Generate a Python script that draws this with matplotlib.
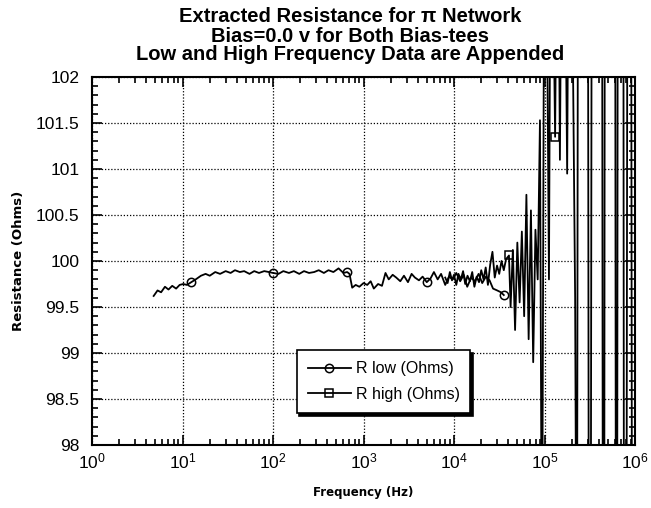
import numpy as np
import matplotlib
matplotlib.use("Agg")
import matplotlib.pyplot as plt
from matplotlib.ticker import LogLocator, MultipleLocator, FixedLocator, NullFormatter

plt.rcParams['font.family'] = ['Liberation Sans', 'DejaVu Sans']

title_lines = ["Extracted Resistance for \u03c0 Network",
               "Bias=0.0 v for Both Bias-tees",
               "Low and High Frequency Data are Appended"]
x_label = "Frequency (Hz)"
y_label = "Resistance (Ohms)"
low_name = "R low (Ohms)"
high_name = "R high (Ohms)"

low_freq = [4.8, 5.3, 5.8, 6.4, 7.0, 7.7, 8.5, 9.3, 10.2, 11.2, 12.5, 14, 16, 18, 20, 23, 26, 30, 34, 38,
            43, 48, 55, 62, 70, 80, 90, 100, 115, 130, 150, 170, 195, 220, 250, 285, 320, 365, 410, 465,
            530, 600, 660, 700, 750, 820, 900, 1000, 1100, 1200, 1300, 1450, 1600, 1750, 1900, 2100, 2300,
            2550, 2800, 3100, 3400, 3700, 4100, 4500, 5000, 5500, 6000, 6600, 7200, 8000, 8800, 9700,
            10600, 11700, 12800, 14000, 15500, 17000, 18700, 20500, 22500, 24700, 27000, 30000, 33000,
            35500]
low_res = [99.62, 99.68, 99.66, 99.72, 99.69, 99.73, 99.70, 99.74, 99.75, 99.74, 99.77, 99.80, 99.84, 99.86,
           99.84, 99.88, 99.86, 99.89, 99.87, 99.90, 99.88, 99.89, 99.86, 99.89, 99.87, 99.89, 99.88, 99.87,
           99.86, 99.89, 99.87, 99.89, 99.86, 99.89, 99.87, 99.88, 99.90, 99.87, 99.90, 99.88, 99.92, 99.87,
           99.88, 99.86, 99.71, 99.74, 99.72, 99.76, 99.74, 99.78, 99.70, 99.75, 99.73, 99.87, 99.80, 99.85,
           99.82, 99.78, 99.84, 99.77, 99.86, 99.82, 99.79, 99.83, 99.77, 99.81, 99.88, 99.80, 99.86, 99.74,
           99.83, 99.80, 99.87, 99.78, 99.85, 99.72, 99.82, 99.78, 99.86, 99.76, 99.83, 99.79, 99.70, 99.68,
           99.66, 99.63]
low_marker_freq = [12.5, 100, 660, 5000, 35500]

high_freq = [8000, 8500, 9000, 9500, 10000, 10600, 11200, 11900, 12600, 13300, 14100, 15000, 15900, 16800,
             17800, 18900, 20000, 21200, 22400, 23700, 25100, 26600, 28200, 29900, 31600, 33500, 35500, 37600,
             40500, 42200, 44700, 47300, 50100, 53100, 56200, 59600, 63100, 66800, 70800, 75000, 79400, 84100,
             89100, 93800, 101000, 112000, 118000, 131000, 140000, 148000, 160000, 178000, 190000, 218000,
             228000, 236000, 300000, 310000, 322000, 335000, 430000, 443000, 455000, 466000, 600000, 617000,
             632000, 648000, 740000, 757000, 800000, 830000, 900000, 930000, 980000]
high_res = [99.82, 99.76, 99.88, 99.79, 99.85, 99.74, 99.86, 99.80, 99.89, 99.75, 99.84, 99.78, 99.88, 99.72,
            99.83, 99.77, 99.90, 99.80, 99.93, 99.74, 99.96, 100.10, 99.82, 99.95, 99.86, 100.00, 99.90, 100.02,
            100.06, 99.50, 100.12, 99.25, 100.20, 99.55, 100.32, 99.40, 100.72, 99.15, 100.55, 98.90, 100.34,
            99.80, 101.53, 96.0, 106.0, 99.80, 105.0, 101.35, 105.0, 101.10, 106.0, 100.95, 106.0, 99.60,
            95.0, 106.0, 106.0, 95.0, 94.0, 106.0, 106.0, 95.0, 94.0, 106.0, 106.0, 95.0, 94.0, 106.0,
            106.0, 95.0, 94.0, 106.0, 106.0, 95.0, 94.0]
high_marker_freq = [40500, 131000]

x_ticks = [1e0, 1e1, 1e2, 1e3, 1e4, 1e5, 1e6]
x_ticklabels = [r"$\mathregular{10^{%d}}$" % i for i in range(7)]
y_ticks = [98, 98.5, 99, 99.5, 100, 100.5, 101, 101.5, 102]
y_ticklabels = ["98", "98.5", "99", "99.5", "100", "100.5", "101", "101.5", "102"]

fig = plt.figure(figsize=(6.51, 5.08), dpi=100)
ax = fig.add_axes([92/651, 1-445/508, 543/651, 368/508])

low_idx = [int(np.argmin(np.abs(np.array(low_freq) - f))) for f in low_marker_freq]
high_idx = [int(np.argmin(np.abs(np.array(high_freq) - f))) for f in high_marker_freq]

ax.plot(low_freq, low_res, color='black', lw=1.3, marker='o', markevery=low_idx,
        markersize=6, markerfacecolor='none', markeredgewidth=1.1, label=low_name, zorder=3)
ax.plot(high_freq, high_res, color='black', lw=1.3, marker='s', markevery=high_idx,
        markersize=6, markerfacecolor='none', markeredgewidth=1.1, label=high_name, zorder=3)

ax.set_xscale('log')
ax.set_xlim(1, 1e6)
ax.set_ylim(98, 102)
ax.xaxis.set_major_locator(FixedLocator(x_ticks))
ax.set_xticklabels(x_ticklabels)
ax.xaxis.set_minor_locator(LogLocator(base=10, subs=np.arange(2, 10)))
ax.xaxis.set_minor_formatter(NullFormatter())
ax.set_yticks(y_ticks)
ax.set_yticklabels(y_ticklabels)
ax.yaxis.set_minor_locator(MultipleLocator(0.1))

ax.tick_params(which='both', direction='in', top=True, right=True, width=1.2, labelsize=12.5)
ax.tick_params(which='major', length=7)
ax.tick_params(axis='x', which='major', pad=5)
ax.tick_params(axis='y', which='major', pad=9)
ax.tick_params(which='minor', length=4)
for s in ax.spines.values():
    s.set_linewidth(1.5)

ax.grid(True, which='major', color='black', linestyle=(0, (1, 1.5)), linewidth=0.9)

ax.set_xlabel(x_label, fontsize=8.5, fontweight='bold', labelpad=10, family='DejaVu Sans')
ax.set_ylabel(y_label, fontsize=9.5, fontweight='bold', labelpad=8, family='DejaVu Sans')

for i, line in enumerate(title_lines):
    fig.text(0.538, 1-(17 + 19*i)/508, line, ha='center', va='center', fontsize=14.5, fontweight='bold')

leg = ax.legend(loc='lower left', bbox_to_anchor=(0.377, 0.087, 0.32, 0.17), mode='expand',
                borderaxespad=0, fancybox=False, edgecolor='black', framealpha=1, fontsize=11.5,
                shadow={'color': 'black', 'alpha': 1}, borderpad=0.7, handlelength=2.7,
                handletextpad=0.3, labelspacing=0.65)
leg.get_frame().set_linewidth(1.2)

fig.savefig("out.png", dpi=100)
